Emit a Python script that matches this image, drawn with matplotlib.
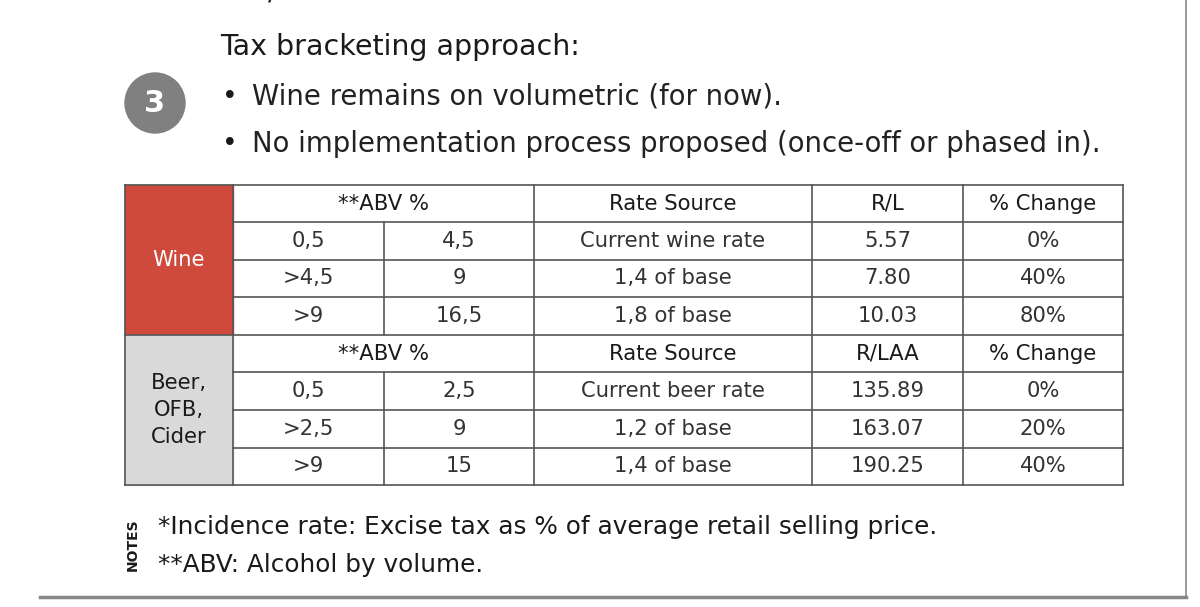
import matplotlib.pyplot as plt
from matplotlib.patches import Rectangle, Circle

title = 'Tax bracketing approach:'
bullets = ['Wine remains on volumetric (for now).',
           'No implementation process proposed (once-off or phased in).']

wine_header = ['**ABV %', 'Rate Source', 'R/L', '% Change']
wine_low = ['0,5', '>4,5', '>9']
wine_high = ['4,5', '9', '16,5']
wine_source = ['Current wine rate', '1,4 of base', '1,8 of base']
wine_rate = ['5.57', '7.80', '10.03']
wine_change = ['0%', '40%', '80%']

beer_header = ['**ABV %', 'Rate Source', 'R/LAA', '% Change']
beer_low = ['0,5', '>2,5', '>9']
beer_high = ['2,5', '9', '15']
beer_source = ['Current beer rate', '1,2 of base', '1,4 of base']
beer_rate = ['135.89', '163.07', '190.25']
beer_change = ['0%', '20%', '40%']

notes = ['*Incidence rate: Excise tax as % of average retail selling price.',
         '**ABV: Alcohol by volume.']

fig = plt.figure(figsize=(12, 6.07), dpi=100)
ax = fig.add_axes([0, 0, 1, 1])
ax.set_xlim(0, 1200)
ax.set_ylim(607, 0)
ax.axis('off')

txt = '#1a1a1a'
ax.text(208, -8, 'AND/OR', fontsize=20, color=txt, va='center')
ax.text(220, 47, title, fontsize=20.5, color=txt, va='center')
for i, b in enumerate(bullets):
    y = 97 + i * 47
    ax.text(222, y, '\u2022', fontsize=19, color=txt, va='center')
    ax.text(252, y, b, fontsize=19.8, color='#222222', va='center')
ax.add_patch(Circle((155, 103), 30, color='#808080'))
ax.text(155, 104, '3', fontsize=22, color='white', weight='bold', ha='center', va='center')

# table
cols = [125, 233, 384, 534, 812, 963, 1123]
rows = [185, 222, 260, 297, 335, 372, 410, 448, 485]
ax.add_patch(Rectangle((cols[0], rows[0]), cols[1] - cols[0], rows[4] - rows[0],
                       color='#cf4a3c', zorder=1))
ax.add_patch(Rectangle((cols[0], rows[4]), cols[1] - cols[0], rows[8] - rows[4],
                       color='#d9d9d9', zorder=1))
lc = '#555555'
for y in rows:
    x0 = cols[0] if y in (rows[0], rows[4], rows[8]) else cols[1]
    ax.plot([x0, cols[-1]], [y, y], color=lc, lw=1.2, zorder=2)
for x in cols:
    if x == cols[2]:
        for a, b in ((rows[1], rows[4]), (rows[5], rows[8])):
            ax.plot([x, x], [a, b], color=lc, lw=1.2, zorder=2)
    else:
        ax.plot([x, x], [rows[0], rows[8]], color=lc, lw=1.2, zorder=2)

fs = 15.2
ax.text((cols[0] + cols[1]) / 2, (rows[0] + rows[4]) / 2, 'Wine', fontsize=fs,
        color='white', ha='center', va='center')
ax.text((cols[0] + cols[1]) / 2, (rows[4] + rows[8]) / 2, 'Beer,\nOFB,\nCider', fontsize=fs,
        color=txt, ha='center', va='center', linespacing=1.45)


def block(r0, header, low, high, source, rate, change):
    ym = (rows[r0] + rows[r0 + 1]) / 2
    ax.text((cols[1] + cols[3]) / 2, ym, header[0], fontsize=fs, color=txt, ha='center', va='center')
    for j, h in enumerate(header[1:]):
        ax.text((cols[3 + j] + cols[4 + j]) / 2, ym, h, fontsize=fs, color=txt, ha='center', va='center')
    for i in range(3):
        ym = (rows[r0 + 1 + i] + rows[r0 + 2 + i]) / 2
        vals = [low[i], high[i], source[i], rate[i], change[i]]
        for j, v in enumerate(vals):
            ax.text((cols[1 + j] + cols[2 + j]) / 2, ym, v, fontsize=fs, color='#333333',
                    ha='center', va='center')


block(0, wine_header, wine_low, wine_high, wine_source, wine_rate, wine_change)
block(4, beer_header, beer_low, beer_high, beer_source, beer_rate, beer_change)

# notes
ax.text(133, 545, 'NOTES', fontsize=10, weight='bold', color=txt, rotation=90,
        ha='center', va='center')
for i, n in enumerate(notes):
    ax.text(158, 527 + i * 38, n, fontsize=17.8, color=txt, va='center')

# frame lines
ax.plot([40, 1186], [597, 597], color='#888888', lw=2.5)
ax.plot([1186, 1186], [0, 597], color='#888888', lw=1.2)

fig.savefig('out.png', dpi=100)
